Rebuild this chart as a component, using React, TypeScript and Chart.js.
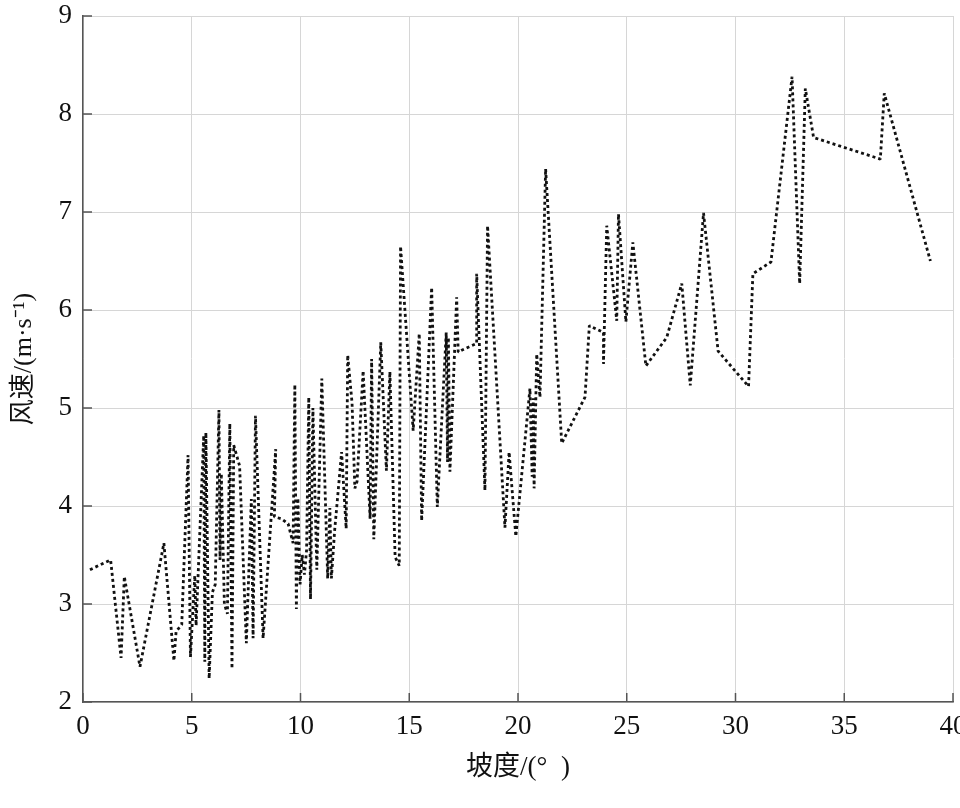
import { useEffect, useRef } from "react"
import { Chart, registerables } from "chart.js"

Chart.register(...registerables)

// 坡度 (°) 与 风速 (m/s)，按图上折线顺序读取
const slope = [
  0.32, 1.27, 1.75, 1.9, 2.62, 3.72, 4.18, 4.28, 4.54, 4.83,
  4.94, 5.14, 5.2, 5.55, 5.6, 5.65, 5.8, 5.95, 6.08, 6.25,
  6.3, 6.36, 6.5, 6.64, 6.75, 6.85, 6.93, 7.2, 7.51, 7.74,
  7.82, 7.93, 8.28, 8.86, 8.8, 9.12, 9.43, 9.66, 9.74, 9.81,
  9.88, 9.98, 10.08, 10.18, 10.28, 10.38, 10.46, 10.57, 10.75, 10.98,
  11.25, 11.35, 11.42, 11.57, 11.89, 12.1, 12.17, 12.37, 12.5, 12.6,
  12.88, 13.2, 13.27, 13.37, 13.69, 13.95, 14.11, 14.35, 14.54, 14.6,
  15.18, 15.46, 15.57, 16.03, 16.29, 16.7, 16.76, 16.8, 16.87, 17.18,
  17.25, 17.41, 18.1, 18.1, 18.48, 18.6, 19.4, 19.59, 19.9, 20.55,
  20.65, 20.7, 20.74, 20.86, 21.01, 21.27, 22.01, 23.08, 23.28, 23.93,
  23.93, 24.08, 24.54, 24.62, 24.96, 25.28, 25.88, 26.84, 27.53, 27.92,
  28.53, 29.2, 30.6, 30.8, 31.63, 32.6, 32.95, 33.21, 33.59, 36.66,
  36.84, 38.96,
]
const windSpeed = [
  3.35, 3.45, 2.45, 3.28, 2.36, 3.62, 2.42, 2.72, 2.79, 4.52,
  2.46, 3.29, 2.78, 4.72, 2.41, 4.75, 2.24, 3.12, 3.2, 4.98,
  3.45, 4.33, 3.0, 2.9, 4.84, 2.34, 4.62, 4.41, 2.6, 4.07,
  2.65, 4.92, 2.65, 4.58, 3.89, 3.87, 3.82, 3.62, 5.24, 2.95,
  4.08, 3.2, 3.5, 3.3, 3.55, 5.11, 3.05, 5.0, 3.35, 5.3,
  3.26, 3.98, 3.26, 3.75, 4.55, 3.77, 5.54, 5.05, 4.18, 4.25,
  5.38, 3.87, 5.5, 3.66, 5.67, 4.36, 5.37, 3.48, 3.39, 6.65,
  4.77, 5.76, 3.85, 6.23, 3.99, 5.77, 4.45, 5.72, 4.35, 6.13,
  5.57, 5.59, 5.66, 6.37, 4.16, 6.86, 3.78, 4.55, 3.69, 5.2,
  4.3, 5.1, 4.18, 5.55, 5.11, 7.44, 4.64, 5.11, 5.84, 5.77,
  5.45, 6.86, 5.89, 6.98, 5.88, 6.69, 5.43, 5.72, 6.27, 5.23,
  6.99, 5.58, 5.22, 6.37, 6.49, 8.38, 6.27, 8.26, 7.76, 7.54,
  8.21, 6.5,
]

const xTitle = "坡度/(°  )"
const yTitle = "风速/(m·s⁻¹)"

const serif = "'Liberation Serif', 'Noto Sans CJK SC', serif"

// 刻度线朝内画
const innerTicks = {
  id: "innerTicks",
  afterDraw(chart: Chart) {
    const { ctx, chartArea } = chart
    const x = chart.scales.x
    const y = chart.scales.y
    ctx.save()
    ctx.strokeStyle = "#555"
    ctx.lineWidth = 1.5
    ctx.beginPath()
    x.ticks.forEach((t) => {
      const px = x.getPixelForValue(t.value)
      ctx.moveTo(px, chartArea.bottom)
      ctx.lineTo(px, chartArea.bottom - 9)
    })
    y.ticks.forEach((t) => {
      const py = y.getPixelForValue(t.value)
      ctx.moveTo(chartArea.left, py)
      ctx.lineTo(chartArea.left + 9, py)
    })
    ctx.stroke()
    ctx.restore()
  },
}

export default function App() {
  const canvasRef = useRef<HTMLCanvasElement>(null)

  useEffect(() => {
    if (!canvasRef.current) return
    const chart = new Chart(canvasRef.current, {
      type: "line",
      data: {
        datasets: [
          {
            data: slope.map((s, i) => ({ x: s, y: windSpeed[i] })),
            borderColor: "#111",
            borderWidth: 2.8,
            borderDash: [3, 3],
            borderJoinStyle: "bevel",
            pointRadius: 0,
            tension: 0,
            fill: false,
          },
        ],
      },
      options: {
        animation: false,
        responsive: true,
        maintainAspectRatio: false,
        layout: { padding: { top: 16, right: 7, left: 0, bottom: 0 } },
        plugins: {
          legend: { display: false },
          tooltip: { enabled: false },
        },
        scales: {
          x: {
            type: "linear",
            min: 0,
            max: 40,
            ticks: {
              stepSize: 5,
              padding: 11,
              color: "#111",
              font: { family: serif, size: 27, lineHeight: 1 },
              maxRotation: 0,
            },
            grid: { color: "#d6d6d6", lineWidth: 1, drawTicks: false },
            border: { color: "#555", width: 1.5 },
            title: {
              display: true,
              text: xTitle,
              color: "#111",
              font: { family: serif, size: 27, lineHeight: 1.2 },
              padding: { top: 0, bottom: 24 },
            },
            afterFit(scale: any) {
              scale.height = 106
              scale.paddingLeft = 0
              scale.paddingRight = 0
            },
          },
          y: {
            type: "linear",
            min: 2,
            max: 9,
            ticks: {
              stepSize: 1,
              padding: 11,
              color: "#111",
              font: { family: serif, size: 27, lineHeight: 1 },
            },
            grid: { color: "#d6d6d6", lineWidth: 1, drawTicks: false },
            border: { color: "#555", width: 1.5 },
            title: {
              display: true,
              text: yTitle,
              color: "#111",
              font: { family: serif, size: 26, lineHeight: 1.2 },
              padding: { top: 9, bottom: 0 },
            },
            afterFit(scale: any) {
              scale.width = 83
              scale.paddingTop = 0
              scale.paddingBottom = 0
            },
          },
        },
      },
      plugins: [innerTicks],
    })
    return () => chart.destroy()
  }, [])

  return (
    <div style={{ position: "fixed", left: 0, top: 0, width: 960, height: 808, background: "#fff" }}>
      <canvas ref={canvasRef} />
    </div>
  )
}
